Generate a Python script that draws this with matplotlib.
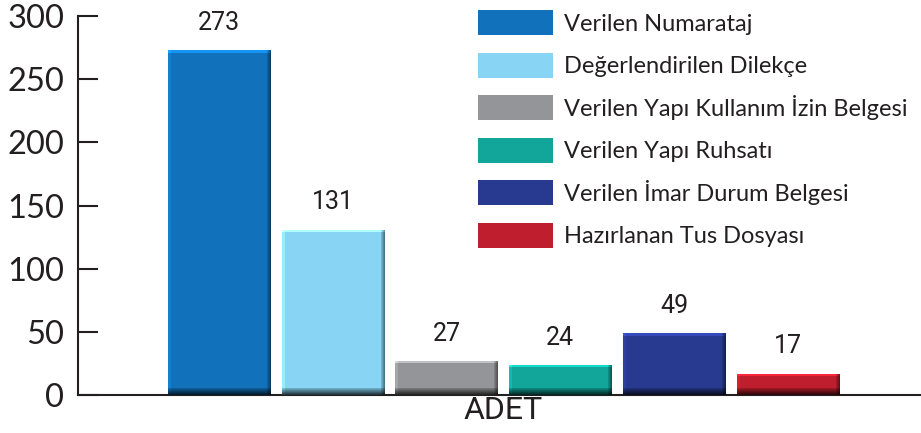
import matplotlib
matplotlib.use("Agg")
import matplotlib.pyplot as plt
import numpy as np
from matplotlib.patches import Patch
from matplotlib.colors import to_rgb

labels = ["Verilen Numarataj", "Değerlendirilen Dilekçe",
          "Verilen Yapı Kullanım İzin Belgesi", "Verilen Yapı Ruhsatı",
          "Verilen İmar Durum Belgesi", "Hazırlanan Tus Dosyası"]
values = [273, 131, 27, 24, 49, 17]
colors = ["#1172BB", "#87D4F4", "#939598", "#12A69A", "#283A8F", "#BE1E2D"]
category = "ADET"

plt.rcParams['font.family'] = ['Lato', 'DejaVu Sans']

fig = plt.figure(figsize=(9.21, 4.33), dpi=100)
ax = fig.add_axes([0.0847, 0.0878, 0.9153, 0.875])

x = np.arange(len(values))
bars = ax.bar(x, values, width=0.9, color=colors, zorder=2)

px_per_unit = 379 / 300.0   # vertical pixels per data unit
px_per_bar = 102.0          # bar width in pixels


def shade(bar, color):
    # fake the bevel look with fixed-size (pixel) edges
    r, g, b = to_rgb(color)
    x0, y0 = bar.get_x(), bar.get_y()
    w, h = bar.get_width(), bar.get_height()
    hp = int(round(h * px_per_unit))
    wp = int(px_per_bar)
    f = np.ones((hp, wp))
    f[:3, :] *= 1.3
    nb = min(7, hp)
    f[hp - nb:, :] *= np.linspace(0.8, 0.25, nb)[:, None]
    f[:, -4:] *= np.linspace(0.85, 0.55, 4)[None, :]
    f[:, :3] *= 1.12
    img = np.clip(np.dstack([r * f, g * f, b * f]), 0, 1)
    im = ax.imshow(img, extent=[x0, x0 + w, y0, y0 + h], aspect='auto',
                   zorder=3, interpolation='nearest')
    im.set_clip_path(bar)


for bar, c in zip(bars, colors):
    shade(bar, c)

for xi, v in zip(x, values):
    ax.text(xi, v + 12, str(v), ha='center', va='bottom', fontsize=18,
            family=['Roboto', 'DejaVu Sans'], color='#231F20')

ax.set_xlim(-1.24, 6.17)
ax.set_ylim(0, 300)
ax.set_yticks([0, 50, 100, 150, 200, 250, 300])
ax.tick_params(axis='y', direction='in', length=14.5, width=1.5, labelsize=23.5,
               colors='#231F20', pad=10)
ax.set_xticks([2.5])
ax.set_xticklabels([category])
ax.tick_params(axis='x', length=0, labelsize=23, pad=1, colors='#231F20')
for lab in ax.get_xticklabels():
    lab.set_family(['Roboto', 'DejaVu Sans'])

for s in ['top', 'right']:
    ax.spines[s].set_visible(False)
for s in ['left', 'bottom']:
    ax.spines[s].set_linewidth(1.5)
    ax.spines[s].set_color('#231F20')

handles = [Patch(facecolor=c, edgecolor='none') for c in colors]
leg = ax.legend(handles, labels, loc='upper left', bbox_to_anchor=(0.463, 1.04),
                frameon=False, fontsize=17, handlelength=3.2, handleheight=1.25,
                labelspacing=0.73, handletextpad=0.45, borderaxespad=0)
for t in leg.get_texts():
    t.set_color('#231F20')

fig.savefig("out.png", dpi=100)
